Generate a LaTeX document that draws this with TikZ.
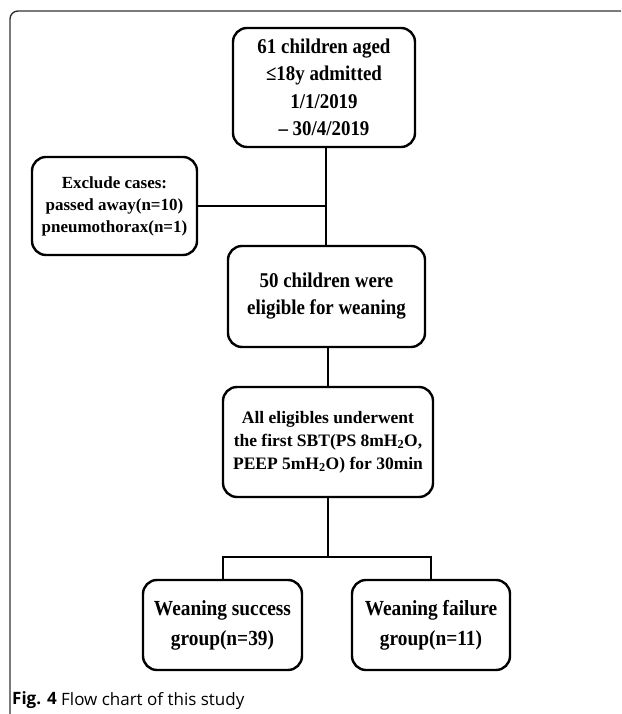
\documentclass[tikz,border=0pt]{standalone}
\usepackage{fontspec}
\setmainfont{Liberation Serif}
\newfontfamily\cond[FakeStretch=0.9]{Liberation Serif}
\newfontfamily\capfont{Open Sans}
\begin{document}
\begin{tikzpicture}[x=1pt,y=1pt,
  flowbox/.style={draw=black, line width=2.4pt, rounded corners=14pt, align=center,
    font=\bfseries, inner sep=0pt},
  conn/.style={draw=black, line width=2pt},
  frame/.style={draw=black!80, line width=1.4pt, rounded corners=8pt}]
\useasboundingbox (0,0) rectangle (621,714);
\fill[white] (0,0) rectangle (621,714);
\draw[frame] (621,703) -- (10,703) -- (10,0);

\node[flowbox, minimum width=182pt, minimum height=119pt,
  font=\cond\fontsize{21}{27.5}\selectfont\bfseries] (top) at (324,626.5)
  {61 children aged\\ ≤18y admitted\\ 1/1/2019\\ – 30/4/2019};
\node[flowbox, minimum width=165pt, minimum height=98pt,
  font=\fontsize{17}{22}\selectfont\bfseries] (excl) at (114.5,508)
  {Exclude cases:\\ passed away(n=10)\\ pneumothorax(n=1)};
\node[flowbox, minimum width=197pt, minimum height=101pt,
  font=\cond\fontsize{21}{27}\selectfont\bfseries] (elig) at (326.5,417.5)
  {50 children were\\ eligible for weaning};
\node[flowbox, minimum width=210pt, minimum height=110pt,
  font=\fontsize{17.5}{23}\selectfont\bfseries] (sbt) at (328,272)
  {All eligibles underwent\\ the first SBT(PS 8mH\textsubscript{2}O,\\ PEEP 5mH\textsubscript{2}O) for 30min};
\node[flowbox, minimum width=159pt, minimum height=90pt,
  font=\cond\fontsize{21.5}{30}\selectfont\bfseries] (succ) at (222.5,89)
  {Weaning success\\ group(n=39)};
\node[flowbox, minimum width=158pt, minimum height=90pt,
  font=\cond\fontsize{21.5}{30}\selectfont\bfseries] (fail) at (431,89)
  {Weaning failure\\ group(n=11)};

\coordinate (br) at (328,157);
\coordinate (joint) at (326,508);
\draw[conn] (top.south -| joint) -- (elig.north -| joint);
\draw[conn] (excl.east) -- (joint);
\draw[conn] (elig.south -| sbt) -- (sbt.north);
\draw[conn] (sbt.south) -- (br);
\draw[conn] (succ.north) |- (br) -| (fail.north);

\node[anchor=base west, inner sep=0pt, font=\capfont\fontsize{17}{20}\selectfont] (cap) at (12,9)
  {\textbf{Fig. 4} Flow chart of this study};
\end{tikzpicture}
\end{document}
